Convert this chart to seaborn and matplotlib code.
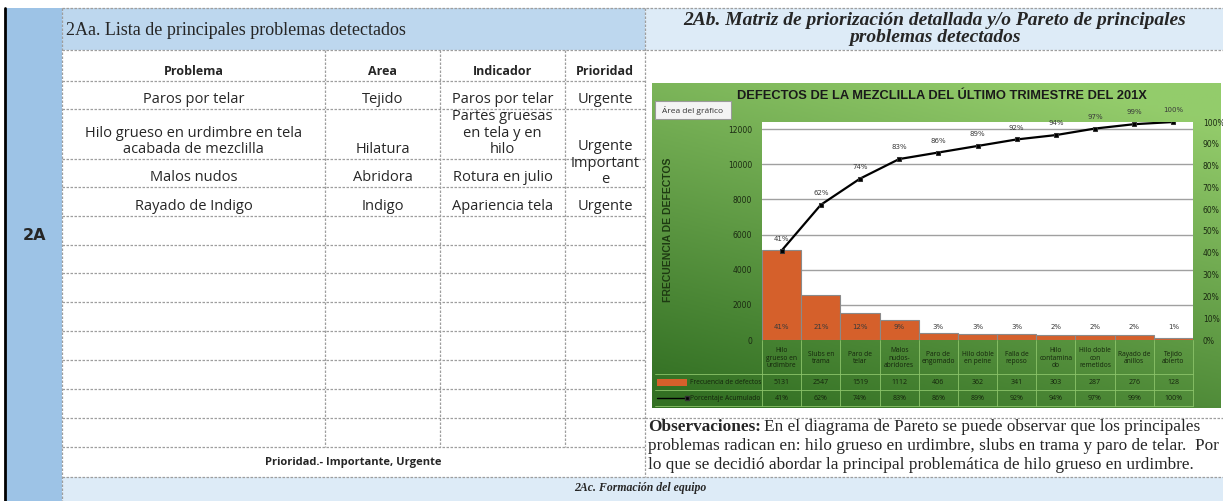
import numpy as np
import pandas as pd
import matplotlib
matplotlib.use("Agg")
import matplotlib.pyplot as plt
import seaborn as sns
from matplotlib.patches import Rectangle
from matplotlib.transforms import blended_transform_factory

# =========================
# Data
# =========================
defectos = ["Hilo\ngrueso en\nurdimbre", "Slubs en\ntrama", "Paro de\ntelar",
            "Malos\nnudos-\nabridores", "Paro de\nengomado", "Hilo doble\nen peine",
            "Falla de\nreposo", "Hilo\ncontamina\ndo", "Hilo doble\ncon\nremetidos",
            "Rayado de\nanillos", "Tejido\nabierto"]
frecuencia = [5131, 2547, 1519, 1112, 406, 362, 341, 303, 287, 276, 128]
pct_barra = ["41%", "21%", "12%", "9%", "3%", "3%", "3%", "2%", "2%", "2%", "1%"]
acumulado = [0.41, 0.62, 0.74, 0.83, 0.86, 0.89, 0.92, 0.94, 0.97, 0.99, 1.00]

problemas = ["Paros por telar", "Hilo grueso en urdimbre en tela\nacabada de mezclilla",
             "Malos nudos", "Rayado de Indigo"]
areas = ["Tejido", "Hilatura", "Abridora", "Indigo"]
indicadores = ["Paros por telar", "Partes gruesas\nen tela y en\nhilo",
               "Rotura en julio", "Apariencia tela"]
prioridades = ["Urgente", "Urgente", "Important\ne", "Urgente"]
encabezados = ["Problema", "Area", "Indicador", "Prioridad"]

# =========================
# Layout (pixels)
# =========================
W, H = 1223, 501
cols = [62, 325, 440, 565, 645]
rows = [50, 81, 109, 159, 187, 216, 245, 273, 302, 331, 360, 389, 418, 447]
DASH = dict(color="#9E9E9E", lw=0.9, ls=(0, (2, 1.2)))
TXT = ["Open Sans", "DejaVu Sans"]
SERIF = ["Liberation Serif", "DejaVu Serif"]


def fig_rect(x0, y0, x1, y1):
    return [x0 / W, 1 - y1 / H, (x1 - x0) / W, (y1 - y0) / H]


sns.set_style("white")
fig = plt.figure(figsize=(W / 100, H / 100), dpi=100)
bg = fig.add_axes([0, 0, 1, 1])
bg.set_xlim(0, W)
bg.set_ylim(H, 0)
bg.axis("off")

# coloured bands
bg.add_patch(Rectangle((6, 8), 56, H - 8, fc="#9DC3E6", ec="none"))
bg.plot([5, 5], [8, H], color="black", lw=2)
bg.add_patch(Rectangle((62, 8), 583, 42, fc="#BDD7EE", ec="none"))
bg.add_patch(Rectangle((645, 8), W - 645, 42, fc="#DDEBF7", ec="none"))
bg.add_patch(Rectangle((62, 477), W - 62, 24, fc="#DDEBF7", ec="none"))

# dashed cell borders
for y in [8, 50, 477]:
    bg.plot([62, W], [y, y], **DASH)
for y in rows[1:]:
    bg.plot([62, 645], [y, y], **DASH)
bg.plot([645, W], [418, 418], **DASH)
bg.plot([62, 62], [8, H], **DASH)
bg.plot([645, 645], [8, 477], **DASH)
for x in cols[1:4]:
    bg.plot([x, x], [50, 447], **DASH)

bg.text(35, 236, "2A", fontsize=11.5, fontweight="bold", ha="center", va="center",
        family="DejaVu Sans")
bg.text(66, 30, "2Aa. Lista de principales problemas detectados", fontsize=13,
        family=SERIF, va="center")
bg.text(935, 29, "2Ab. Matriz de priorización detallada y/o Pareto de principales\nproblemas detectados",
        fontsize=14, family=SERIF, fontweight="bold", style="italic", ha="center",
        va="center", linespacing=1.05)

# table header + cells
for j, h in enumerate(encabezados):
    bg.text((cols[j] + cols[j + 1]) / 2, 71, h, fontsize=9, fontweight="bold",
            family=TXT, ha="center", va="center")

tabla = [problemas, areas, indicadores, prioridades]


def hangs_over(i, j):
    # wrapped text in a short row spills over the top of its cell
    if i >= len(problemas):
        return False
    return tabla[j][i].count("\n") >= 1 and (rows[i + 2] - rows[i + 1]) < 35


for i in range(len(problemas)):
    y0, y1 = rows[i + 1], rows[i + 2]
    for j in range(4):
        val = tabla[j][i]
        clip = Rectangle((cols[j], y0), cols[j + 1] - cols[j], y1 - y0, transform=bg.transData)
        if hangs_over(i, j):
            pad = 0
        elif hangs_over(i + 1, j):
            pad = 5
        else:
            pad = 2
        t = bg.text((cols[j] + cols[j + 1]) / 2, y1 - pad, val, fontsize=10.5, family=TXT,
                    ha="center", va="bottom", linespacing=1.12)
        t.set_clip_path(clip)

bg.text(353, 462, "Prioridad.- Importante, Urgente", fontsize=8, fontweight="bold",
        family=TXT, ha="center", va="center")
bg.text(640, 488, "2Ac. Formación del equipo", fontsize=8.5, fontweight="bold",
        style="italic", family=SERIF, ha="center", va="center")

# observaciones
t_obs = bg.text(648, 427, "Observaciones:", fontsize=12.4, fontweight="bold",
                family=SERIF, va="center")
fig.canvas.draw()
w_obs = t_obs.get_window_extent(fig.canvas.get_renderer()).width
bg.text(648 + w_obs + 3, 427, "En el diagrama de Pareto se puede observar que los principales",
        fontsize=12.4, family=SERIF, va="center")
bg.text(648, 446, "problemas radican en: hilo grueso en urdimbre, slubs en trama y paro de telar.  Por",
        fontsize=12.4, family=SERIF, va="center")
bg.text(648, 465, "lo que se decidió abordar la principal problemática de hilo grueso en urdimbre.",
        fontsize=12.4, family=SERIF, va="center")

# =========================
# Pareto chart
# =========================
ca = fig.add_axes(fig_rect(652, 83, 1221, 408))
yy, xx = np.mgrid[0:1:120j, 0:1:240j]
t = np.clip(0.8 * yy + 0.35 * (1 - xx) - 0.1, 0, 1)[..., None]
top = np.array([0.58, 0.80, 0.42])
bot = np.array([0.20, 0.44, 0.14])
ca.imshow(top * (1 - t) + bot * t, aspect="auto", extent=[0, 1, 0, 1])
ca.axis("off")

bg2 = fig.add_axes([0, 0, 1, 1])
bg2.set_xlim(0, W)
bg2.set_ylim(H, 0)
bg2.axis("off")
bg2.patch.set_alpha(0)

bg2.text(942, 96, "DEFECTOS DE LA MEZCLILLA DEL ÚLTIMO TRIMESTRE DEL 201X", fontsize=9.3,
         fontweight="bold", family=["Liberation Sans", "DejaVu Sans"],
         color="#1A1A1A", ha="center", va="center")
bg2.add_patch(Rectangle((655, 101), 76, 18, fc="#F4F4F4", ec="#9A9A9A", lw=0.8))
bg2.text(693, 110, "Área del gráfico", fontsize=6, family=TXT, color="#333333",
         ha="center", va="center")
bg2.text(668, 230, "FRECUENCIA DE DEFECTOS", rotation=90, fontsize=7.5, fontweight="bold",
         family=["Liberation Sans", "DejaVu Sans"], color="#1E3A12", ha="center", va="center")

ax = fig.add_axes(fig_rect(762, 122, 1193, 340))
ax.set_facecolor("white")
df = pd.DataFrame({"defecto": defectos, "frecuencia": frecuencia})
sns.barplot(data=df, x="defecto", y="frecuencia", color="#D5602B", saturation=1,
            width=1, edgecolor="#8A8A8A", linewidth=0.8, ax=ax, zorder=2)
ax.set_xlim(-0.5, len(defectos) - 0.5)
ax.set_ylim(0, sum(frecuencia))
ax.set_yticks(range(0, 12001, 2000))
ax.set_xticks([])
ax.set_xlabel("")
ax.set_ylabel("")
ax.yaxis.grid(True, color="#A0A0A0", lw=1)
ax.set_axisbelow(True)
for s in ax.spines.values():
    s.set_visible(False)
ax.tick_params(axis="y", length=0, labelsize=5.5, pad=7, labelcolor="#1B2A12")
for i, p in enumerate(pct_barra):
    ax.text(i, sum(frecuencia) * 0.06, p, ha="center", va="center", fontsize=5,
            color="#3A3A3A", zorder=4)

ax2 = ax.twinx()
pos = np.arange(len(acumulado))
sns.lineplot(x=pos, y=acumulado, ax=ax2, color="black", lw=1.6, marker="s",
             markersize=3.5, markeredgecolor="#333333", zorder=3)
ax2.set_ylim(0, 1)
ax2.set_yticks(np.linspace(0, 1, 11))
ax2.set_yticklabels([f"{v:.0%}" for v in np.linspace(0, 1, 11)])
for s in ax2.spines.values():
    s.set_visible(False)
ax2.tick_params(axis="y", length=0, labelsize=5.5, pad=7, labelcolor="#1B2A12")
for i, v in enumerate(acumulado):
    ax2.annotate(f"{v:.0%}", (i, v), xytext=(0, 7), textcoords="offset points",
                 ha="center", fontsize=5, color="#3A3A3A")

# data table under the plot
tr = blended_transform_factory(ax.transData, bg2.transData)
for k in range(len(defectos) + 1):
    ax.plot([k - 0.5, k - 0.5], [340, 406], transform=tr, clip_on=False,
            color="#8CC46A", lw=0.6)
for y in [374, 390, 406]:
    bg2.plot([655, 1193], [y, y], color="#8CC46A", lw=0.6)
for i, lab in enumerate(defectos):
    ax.text(i, 358, lab, transform=tr, ha="center", va="center", fontsize=4.8,
            color="#14240C", linespacing=1.1, clip_on=False, family=TXT)
    ax.text(i, 382, str(frecuencia[i]), transform=tr, ha="center", va="center",
            fontsize=5, color="#14240C", clip_on=False, family=TXT)
    ax.text(i, 398, f"{acumulado[i]:.0%}", transform=tr, ha="center", va="center",
            fontsize=5, color="#14240C", clip_on=False, family=TXT)
bg2.add_patch(Rectangle((657, 379), 30, 7, fc="#D5602B", ec="none"))
bg2.text(690, 382, "Frecuencia de defectos", fontsize=4.8, color="#14240C",
         va="center", family=TXT)
bg2.plot([657, 687], [398, 398], color="black", lw=1, marker="s", markersize=2.5,
         markevery=[1], markeredgecolor="#333333")
bg2.text(690, 398, "Porcentaje Acumulado", fontsize=4.8, color="#14240C",
         va="center", family=TXT)

fig.savefig("out.png", dpi=100)
